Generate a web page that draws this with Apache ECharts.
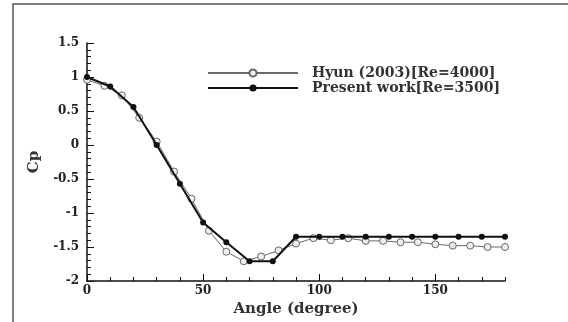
<!DOCTYPE html>
<html>
<head>
<meta charset="utf-8">
<script src="https://cdn.jsdelivr.net/npm/echarts@6/dist/echarts.min.js"></script>
<style>
  html, body { margin: 0; padding: 0; background: #fff; }
  #chart { width: 568px; height: 322px; }
</style>
</head>
<body>
<div id="chart"></div>
<script>
// Pressure coefficient around the cylinder surface
const hyunAngle = [0, 7.5, 15, 22.5, 30, 37.5, 45, 52.5, 60, 67.5, 75, 82.5, 90,
  97.5, 105, 112.5, 120, 127.5, 135, 142.5, 150, 157.5, 165, 172.5, 180];
const hyunCp = [0.96, 0.87, 0.73, 0.40, 0.05, -0.39, -0.79, -1.26, -1.57, -1.71, -1.64, -1.55, -1.45,
  -1.37, -1.40, -1.37, -1.41, -1.41, -1.43, -1.43, -1.46, -1.48, -1.48, -1.50, -1.50];

const presentAngle = [0, 10, 20, 30, 40, 50, 60, 70, 80, 90, 100, 110, 120, 130, 140, 150, 160, 170, 180];
const presentCp = [1.0, 0.86, 0.56, 0.0, -0.57, -1.14, -1.43, -1.71, -1.71, -1.35, -1.35, -1.35, -1.35,
  -1.35, -1.35, -1.35, -1.35, -1.35, -1.35];

const seriesNames = ['Hyun (2003)[Re=4000]', 'Present work[Re=3500]'];
const xMajorTicks = [0, 50, 100, 150];

const serif = 'DejaVu Serif';
const chart = echarts.init(document.getElementById('chart'), null, { renderer: 'canvas' });

const labelStyle = { fontFamily: serif, fontWeight: 'bold', fontSize: 12, color: '#222' };

chart.setOption({
  animation: false,
  backgroundColor: '#fff',
  graphic: [{
    type: 'rect',
    shape: { x: 13, y: 4, width: 700, height: 400 },
    style: { fill: 'none', stroke: '#555', lineWidth: 1.5 },
    silent: true
  }],
  grid: { left: 87, right: 63, top: 43, bottom: 34 },
  legend: {
    orient: 'vertical',
    left: 202,
    top: 61,
    itemWidth: 90,
    itemHeight: 9,
    itemGap: 1,
    data: seriesNames,
    textStyle: { fontFamily: serif, fontWeight: 'bold', fontSize: 14, color: '#333', padding: [0, 0, 0, 9] }
  },
  xAxis: [{
    type: 'value',
    min: 0, max: 180, interval: 50,
    position: 'bottom',
    name: 'Angle (degree)',
    nameLocation: 'middle',
    nameGap: 21,
    nameTextStyle: { fontFamily: serif, fontWeight: 'bold', fontSize: 15, color: '#333' },
    axisLine: { onZero: false, lineStyle: { color: '#111', width: 1.5 } },
    axisTick: { inside: true, length: 7, lineStyle: { color: '#111' }, customValues: xMajorTicks },
    axisLabel: Object.assign({ margin: 4, customValues: xMajorTicks }, labelStyle),
    splitLine: { show: false }
  }, {
    type: 'value',
    min: 0, max: 180, interval: 10,
    position: 'bottom',
    axisLine: { show: false, onZero: false },
    axisTick: { inside: true, length: 4, lineStyle: { color: '#111' } },
    axisLabel: { show: false },
    splitLine: { show: false }
  }],
  yAxis: {
    type: 'value',
    min: -2, max: 1.5, interval: 0.5,
    name: 'Cp',
    nameLocation: 'middle',
    nameGap: 45,
    nameTextStyle: { fontFamily: serif, fontWeight: 'bold', fontSize: 15, color: '#333' },
    axisLine: { show: true, onZero: false, lineStyle: { color: '#111', width: 1.5 } },
    axisTick: { inside: true, length: 7, lineStyle: { color: '#111' } },
    minorTick: { show: true, splitNumber: 5, length: 4, lineStyle: { color: '#111' } },
    axisLabel: Object.assign({ margin: 8 }, labelStyle),
    splitLine: { show: false }
  },
  series: [{
    name: seriesNames[0],
    type: 'line',
    xAxisIndex: 0,
    data: hyunAngle.map((a, i) => [a, hyunCp[i]]),
    symbol: 'circle',
    symbolSize: 7,
    lineStyle: { color: '#6a6a6a', width: 1 },
    itemStyle: { color: '#eeeeee', borderColor: '#666', borderWidth: 1 },
    z: 2
  }, {
    name: seriesNames[1],
    type: 'line',
    xAxisIndex: 0,
    data: presentAngle.map((a, i) => [a, presentCp[i]]),
    symbol: 'circle',
    symbolSize: 6,
    lineStyle: { color: '#111', width: 2 },
    itemStyle: { color: '#111' },
    z: 3
  }]
});
</script>
</body>
</html>
